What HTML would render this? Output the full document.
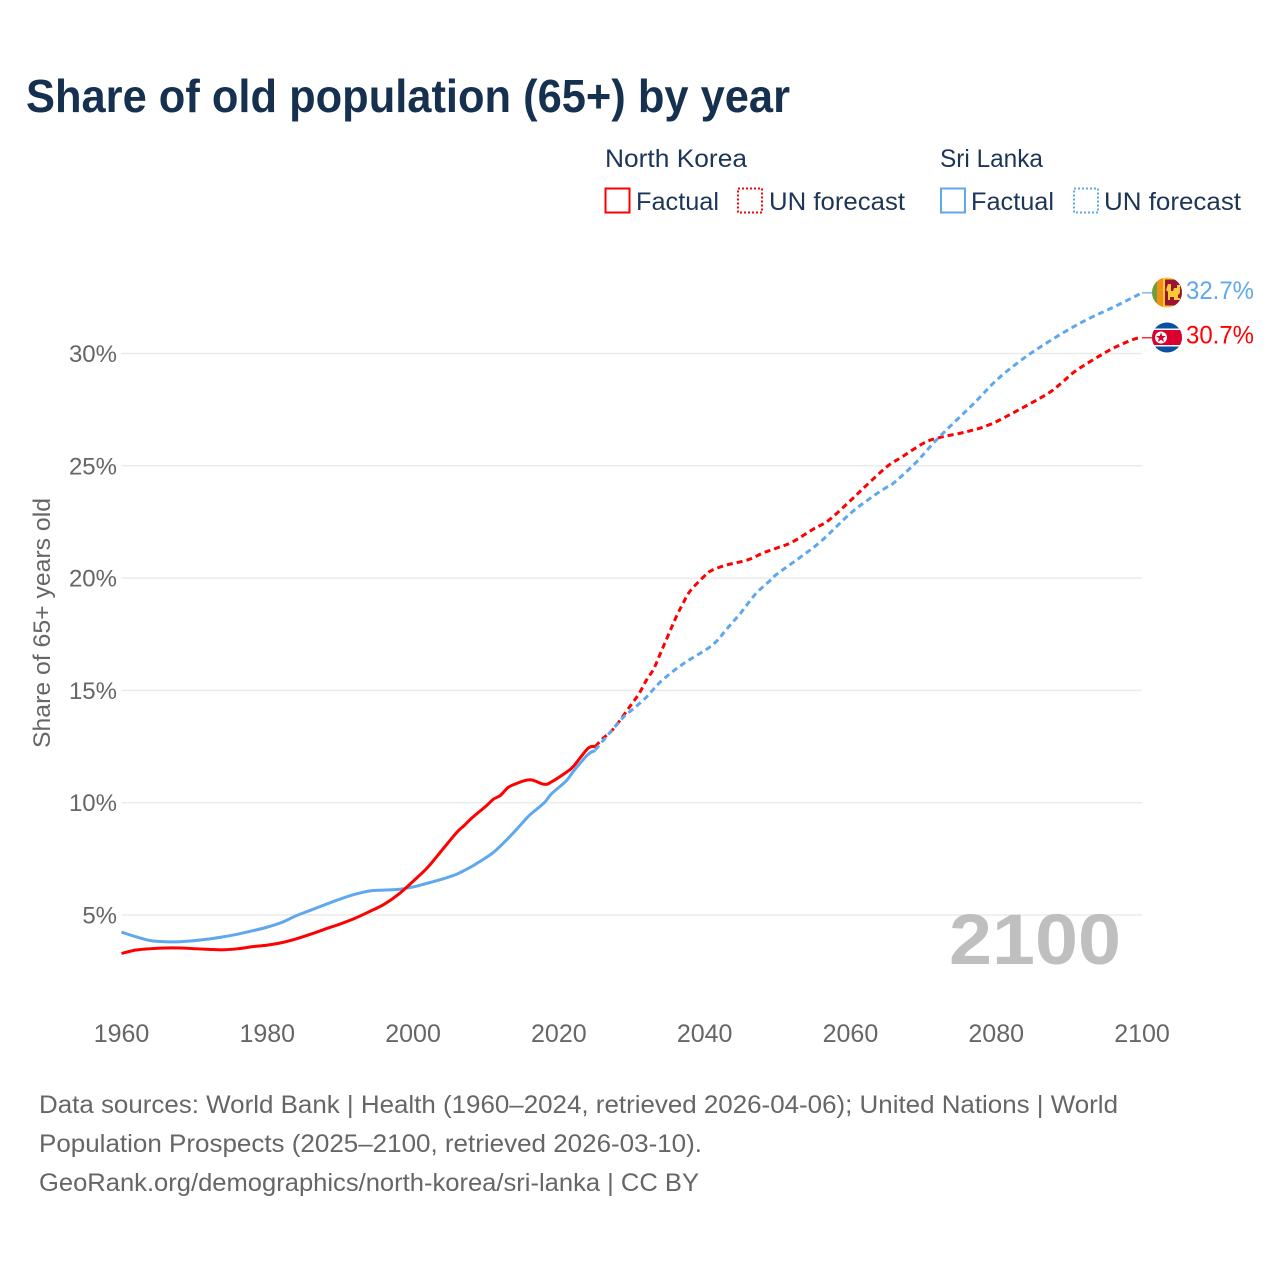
<!DOCTYPE html>
<html lang="en">
<head>
<meta charset="utf-8">
<title>Share of old population (65+) by year</title>
<style>
html,body{margin:0;padding:0;background:#fff;}
svg{display:block;}
text{font-family:"Liberation Sans",sans-serif;}
</style>
</head>
<body>
<svg id="chart" width="1280" height="1280" viewBox="0 0 1280 1280" xmlns="http://www.w3.org/2000/svg">
<defs>
<clipPath id="clip-lk"><circle cx="1167" cy="292.5" r="15"/></clipPath>
<clipPath id="clip-kp"><circle cx="1167" cy="337.5" r="15"/></clipPath>
</defs>
<text x="26" y="112" font-size="46" font-weight="700" fill="#16304f" textLength="764" lengthAdjust="spacingAndGlyphs">Share of old population (65+) by year</text>

<g>
<text x="605" y="167" font-size="25" fill="#1d3557" textLength="142" lengthAdjust="spacingAndGlyphs">North Korea</text>
<rect x="605.5" y="188.5" width="24" height="24" fill="none" stroke="#ff0000" stroke-width="2"/>
<text x="636" y="210" font-size="25" fill="#1d3557" textLength="83" lengthAdjust="spacingAndGlyphs">Factual</text>
<rect x="738" y="188.5" width="24" height="24" fill="none" stroke="#ff0000" stroke-width="2" stroke-dasharray="2 2"/>
<text x="769" y="210" font-size="25" fill="#1d3557" textLength="136" lengthAdjust="spacingAndGlyphs">UN forecast</text>
<text x="940" y="167" font-size="25" fill="#1d3557" textLength="103" lengthAdjust="spacingAndGlyphs">Sri Lanka</text>
<rect x="941" y="188.5" width="24" height="24" fill="none" stroke="#5fa8ee" stroke-width="2"/>
<text x="971" y="210" font-size="25" fill="#1d3557" textLength="83" lengthAdjust="spacingAndGlyphs">Factual</text>
<rect x="1074" y="188.5" width="24" height="24" fill="none" stroke="#5fa8ee" stroke-width="2" stroke-dasharray="2 2"/>
<text x="1104" y="210" font-size="25" fill="#1d3557" textLength="137" lengthAdjust="spacingAndGlyphs">UN forecast</text>
</g>

<text transform="translate(50,623) rotate(-90)" text-anchor="middle" font-size="24" fill="#666666" textLength="250" lengthAdjust="spacingAndGlyphs">Share of 65+ years old</text>

<g id="grid"></g>
<g id="y-ticks"></g>
<g id="x-ticks"></g>

<text x="949" y="964" font-size="71" font-weight="700" fill="#bfbfbf" textLength="172" lengthAdjust="spacingAndGlyphs">2100</text>

<g id="series"></g>

<g clip-path="url(#clip-lk)">
<rect x="1152" y="277" width="30" height="31" fill="#f9c936"/>
<rect x="1152" y="277" width="5" height="31" fill="#6f9e3e"/>
<rect x="1157" y="277" width="6" height="31" fill="#f28f16"/>
<rect x="1165" y="279.5" width="17" height="26" fill="#9c1434"/>
<path d="M1168 284h3v7h2l1-3h3v-3h3v8l-2 2v3h2v2h-6v-3h-4v3h-2v-8l-2-2z" fill="#f9c936"/>
</g>
<g clip-path="url(#clip-kp)">
<rect x="1152" y="322" width="30" height="31" fill="#0b4ea2"/>
<rect x="1152" y="328.5" width="30" height="18" fill="#ffffff"/>
<rect x="1152" y="330" width="30" height="15" fill="#d9002f"/>
<circle cx="1161" cy="337.5" r="6" fill="#ffffff"/>
<polygon points="1161,332.5 1162.3,336 1166,336 1163,338.3 1164.1,342 1161,339.8 1157.9,342 1159,338.3 1156,336 1159.7,336" fill="#d9002f"/>
</g>
<text x="1186" y="299" font-size="25" fill="#5fa8ee" textLength="68" lengthAdjust="spacingAndGlyphs">32.7%</text>
<text x="1186" y="343.5" font-size="25" fill="#ff0000" textLength="68" lengthAdjust="spacingAndGlyphs">30.7%</text>

<g font-size="25" fill="#666666">
<text x="39" y="1113" textLength="1079" lengthAdjust="spacingAndGlyphs">Data sources: World Bank | Health (1960–2024, retrieved 2026-04-06); United Nations | World</text>
<text x="39" y="1152" textLength="663" lengthAdjust="spacingAndGlyphs">Population Prospects (2025–2100, retrieved 2026-03-10).</text>
<text x="39" y="1191" textLength="660" lengthAdjust="spacingAndGlyphs">GeoRank.org/demographics/north-korea/sri-lanka | CC BY</text>
</g>
</svg>
<script>
const yTickValues = [5, 10, 15, 20, 25, 30];
const xTickYears = [1960, 1980, 2000, 2020, 2040, 2060, 2080, 2100];

const krFactualYears = [1960,1962,1964,1966,1968,1970,1972,1974,1976,1978,1980,1982,1984,1986,1988,1990,1992,1994,1996,1998,2000,2002,2004,2006,2007,2008,2010,2011,2012,2013,2014,2016,2018,2019,2021,2022,2024,2025];
const krFactualValues = [3.29,3.44,3.50,3.53,3.53,3.50,3.47,3.45,3.50,3.59,3.66,3.77,3.94,4.15,4.38,4.60,4.85,5.15,5.47,5.92,6.50,7.12,7.90,8.68,8.98,9.30,9.85,10.15,10.33,10.67,10.83,11.02,10.82,10.93,11.35,11.62,12.42,12.50];

const lkFactualYears = [1960,1962,1964,1966,1968,1970,1972,1974,1976,1978,1980,1982,1984,1986,1988,1990,1992,1994,1996,1998,2000,2001,2004,2006,2008,2009,2011,2013,2015,2016,2018,2019,2021,2022,2024,2025];
const lkFactualValues = [4.24,4.03,3.86,3.81,3.81,3.86,3.93,4.03,4.15,4.30,4.46,4.67,4.97,5.22,5.47,5.71,5.92,6.07,6.11,6.14,6.25,6.33,6.60,6.82,7.15,7.35,7.78,8.40,9.10,9.45,10.00,10.40,10.97,11.40,12.15,12.32];

const krForecastYears = [2025,2026,2027,2028,2030,2031,2032,2033,2034,2036,2037,2038,2040,2041,2043,2046,2048,2050,2052,2055,2057,2060,2062,2065,2067,2070,2072,2076,2079,2082,2087,2089,2091,2095,2097,2099,2100];
const krForecastValues = [12.50,12.85,13.12,13.50,14.40,14.85,15.45,15.95,16.70,18.20,18.85,19.42,20.10,20.35,20.58,20.82,21.12,21.35,21.60,22.20,22.57,23.45,24.07,24.96,25.38,26.00,26.24,26.52,26.82,27.30,28.20,28.70,29.25,30.05,30.38,30.65,30.70];

const lkForecastYears = [2025,2027,2029,2030,2032,2034,2037,2041,2043,2045,2047,2049,2050,2053,2056,2060,2063,2065,2066,2069,2072,2077,2080,2083,2086,2090,2093,2096,2100];
const lkForecastValues = [12.35,13.12,13.86,14.12,14.70,15.40,16.17,17.00,17.72,18.47,19.30,19.90,20.20,20.90,21.65,22.88,23.62,24.05,24.25,25.15,26.22,27.80,28.80,29.60,30.28,31.08,31.60,32.05,32.70];

const NS = 'http://www.w3.org/2000/svg';
const xScale = function (year) { return 121.5 + (year - 1960) * (1142 - 121.5) / 140; };
const yScale = function (v) { return 1027.3 - v * 22.46; };

function smoothPath(years, values) {
  const pts = years.map(function (yr, i) { return [xScale(yr), yScale(values[i])]; });
  let d = 'M' + pts[0][0].toFixed(2) + ' ' + pts[0][1].toFixed(2);
  for (let i = 0; i < pts.length - 1; i++) {
    const p0 = pts[Math.max(0, i - 1)], p1 = pts[i], p2 = pts[i + 1], p3 = pts[Math.min(pts.length - 1, i + 2)];
    const c1x = p1[0] + (p2[0] - p0[0]) / 6, c1y = p1[1] + (p2[1] - p0[1]) / 6;
    const c2x = p2[0] - (p3[0] - p1[0]) / 6, c2y = p2[1] - (p3[1] - p1[1]) / 6;
    d += 'C' + c1x.toFixed(2) + ' ' + c1y.toFixed(2) + ' ' + c2x.toFixed(2) + ' ' + c2y.toFixed(2) + ' ' + p2[0].toFixed(2) + ' ' + p2[1].toFixed(2);
  }
  return d;
}

const gridGroup = document.getElementById('grid');
const yGroup = document.getElementById('y-ticks');
yTickValues.forEach(function (v) {
  const line = document.createElementNS(NS, 'line');
  
  
  line.setAttribute('x1', xScale(1960));
  line.setAttribute('x2', xScale(2100));
  line.setAttribute('y1', yScale(v));
  line.setAttribute('y2', yScale(v));
  line.setAttribute('stroke', '#ebebeb');
  line.setAttribute('stroke-width', '1.5');
  gridGroup.appendChild(line);
  const label = document.createElementNS(NS, 'text');
  
  
  label.setAttribute('x', '117');
  label.setAttribute('y', yScale(v) + 8.5);
  label.setAttribute('text-anchor', 'end');
  label.setAttribute('font-size', '24');
  label.setAttribute('fill', '#666666');
  label.textContent = v + '%';
  yGroup.appendChild(label);
});

const xGroup = document.getElementById('x-ticks');
xTickYears.forEach(function (yr) {
  const label = document.createElementNS(NS, 'text');
  
  
  label.setAttribute('x', xScale(yr));
  label.setAttribute('y', '1042');
  label.setAttribute('text-anchor', 'middle');
  label.setAttribute('font-size', '25');
  label.setAttribute('fill', '#666666');
  label.textContent = yr;
  xGroup.appendChild(label);
});

const seriesGroup = document.getElementById('series');

const lkFactualLine = document.createElementNS(NS, 'path');


lkFactualLine.setAttribute('d', smoothPath(lkFactualYears, lkFactualValues));
lkFactualLine.setAttribute('fill', 'none');
lkFactualLine.setAttribute('stroke', '#5fa8ee');
lkFactualLine.setAttribute('stroke-width', '3');
seriesGroup.appendChild(lkFactualLine);

const krFactualLine = document.createElementNS(NS, 'path');


krFactualLine.setAttribute('d', smoothPath(krFactualYears, krFactualValues));
krFactualLine.setAttribute('fill', 'none');
krFactualLine.setAttribute('stroke', '#ff0000');
krFactualLine.setAttribute('stroke-width', '3');
seriesGroup.appendChild(krFactualLine);

const krForecastLine = document.createElementNS(NS, 'path');


krForecastLine.setAttribute('d', smoothPath(krForecastYears, krForecastValues));
krForecastLine.setAttribute('fill', 'none');
krForecastLine.setAttribute('stroke', '#ff0000');
krForecastLine.setAttribute('stroke-width', '3');
krForecastLine.setAttribute('stroke-dasharray', '6 4');
seriesGroup.appendChild(krForecastLine);

const lkForecastLine = document.createElementNS(NS, 'path');


lkForecastLine.setAttribute('d', smoothPath(lkForecastYears, lkForecastValues));
lkForecastLine.setAttribute('fill', 'none');
lkForecastLine.setAttribute('stroke', '#5fa8ee');
lkForecastLine.setAttribute('stroke-width', '3');
lkForecastLine.setAttribute('stroke-dasharray', '6 4');
seriesGroup.appendChild(lkForecastLine);

const lkConnector = document.createElementNS(NS, 'line');


lkConnector.setAttribute('x1', xScale(2100));
lkConnector.setAttribute('x2', '1153');
lkConnector.setAttribute('y1', yScale(lkForecastValues[lkForecastValues.length - 1]));
lkConnector.setAttribute('y2', yScale(lkForecastValues[lkForecastValues.length - 1]));
lkConnector.setAttribute('stroke', '#5fa8ee');
lkConnector.setAttribute('stroke-width', '1.2');
seriesGroup.appendChild(lkConnector);

const krConnector = document.createElementNS(NS, 'line');


krConnector.setAttribute('x1', xScale(2100));
krConnector.setAttribute('x2', '1153');
krConnector.setAttribute('y1', yScale(krForecastValues[krForecastValues.length - 1]));
krConnector.setAttribute('y2', yScale(krForecastValues[krForecastValues.length - 1]));
krConnector.setAttribute('stroke', '#ff0000');
krConnector.setAttribute('stroke-width', '1.2');
seriesGroup.appendChild(krConnector);
</script>
</body>
</html>
